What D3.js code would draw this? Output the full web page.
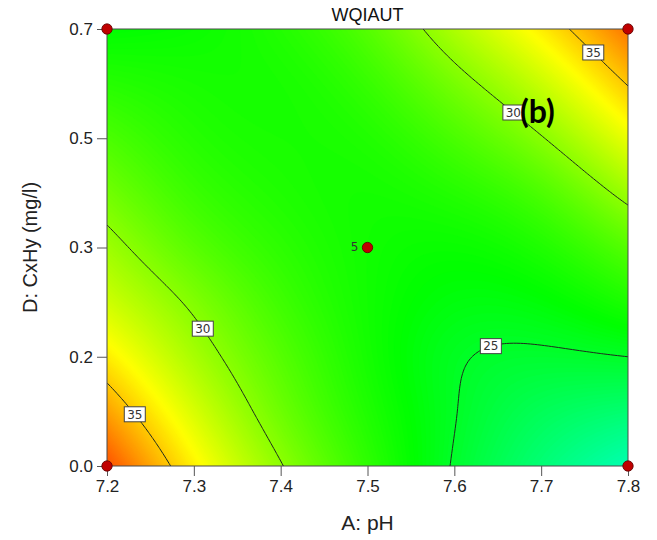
<!DOCTYPE html>
<html>
<head>
<meta charset="utf-8">
<script src="https://cdn.jsdelivr.net/npm/d3@7"></script>
<style>
  body { margin: 0; background: #fff; }
  svg text { font-family: "Liberation Sans", Arial, sans-serif; }
</style>
</head>
<body>
<svg id="chart" width="657" height="540"></svg>
<script>
// factor levels of the grid
var phLevels = [7.2, 7.3, 7.4, 7.5, 7.6, 7.7, 7.8];
var cxhyLevels = [0, 0.0875, 0.175, 0.2625, 0.35, 0.4375, 0.525, 0.6125, 0.7];

// WQIAUT estimated at each grid node, one row per CxHy level (bottom row first)
var wqiRows = [
  [38.6, 33.8, 30.1, 27.25, 24.9, 23.2, 21.8],
  [36.2, 32.25, 29.1, 26.8, 25.05, 23.9, 23.3],
  [33.95, 30.85, 28.4, 26.5, 25.15, 24.8, 25.0],
  [32.0, 29.7, 27.75, 26.4, 25.6, 25.75, 26.7],
  [30.55, 28.5, 27.2, 26.4, 26.15, 26.8, 28.4],
  [29.25, 27.6, 26.8, 26.5, 26.95, 28.15, 30.5],
  [28.1, 27.0, 26.6, 26.85, 28.05, 29.9, 32.8],
  [27.0, 26.6, 26.6, 27.5, 29.4, 31.8, 35.1],
  [25.9, 26.2, 26.9, 28.4, 31.0, 33.9, 37.5]
];

var contourLevels = [25, 30, 35];

// where the software put each contour label
var labelLevels = [35, 30, 25, 30, 35];
var labelPh = [7.236, 7.313, 7.643, 7.667, 7.763];
var labelCxhy = [0.085, 0.221, 0.187, 0.562, 0.666];

// design points
var designPh = [7.2, 7.8, 7.2, 7.8, 7.5];
var designCxhy = [0, 0, 0.7, 0.7, 0.35];
var designReps = [1, 1, 1, 1, 5];

var phTicks = [7.2, 7.3, 7.4, 7.5, 7.6, 7.7, 7.8];
var cxhyTicks = [0, 0.175, 0.35, 0.525, 0.7];
var cxhyTickLabels = ['0.0', '0.2', '0.3', '0.5', '0.7'];

var colorStops = [16, 20, 25.9, 33.4, 41];
var colorRange = ['#0000ff', '#00ffff', '#00ff00', '#ffff00', '#ff0000'];

var margin = {top: 29, right: 29, bottom: 74, left: 107},
    width = 657 - margin.left - margin.right,
    height = 540 - margin.top - margin.bottom;

var svg = d3.select('#chart');
var g = svg.append('g').attr('transform', 'translate(' + margin.left + ',' + margin.top + ')');

var x = d3.scaleLinear().domain([7.2, 7.8]).range([0, width]);
var y = d3.scaleLinear().domain([0, 0.7]).range([height, 0]);
var color = d3.scaleLinear().domain(colorStops).range(colorRange).clamp(true);

// natural cubic spline through evenly spaced values, evaluated at n points
function splineResample(ys, n) {
  var k = ys.length, M = new Array(k).fill(0);
  if (k > 2) {
    var a = [], rhs = [];
    for (var i = 1; i < k - 1; i++) {
      a.push(4);
      rhs.push(6 * (ys[i + 1] - 2 * ys[i] + ys[i - 1]));
    }
    for (var i2 = 1; i2 < a.length; i2++) {
      var w = 1 / a[i2 - 1];
      a[i2] -= w;
      rhs[i2] -= w * rhs[i2 - 1];
    }
    for (var i3 = a.length - 1; i3 >= 0; i3--) {
      M[i3 + 1] = (rhs[i3] - (i3 + 2 < k - 1 ? M[i3 + 2] : 0)) / a[i3];
    }
  }
  var out = new Array(n);
  for (var q = 0; q < n; q++) {
    var t = q / (n - 1) * (k - 1),
        s0 = Math.min(Math.floor(t), k - 2),
        s = t - s0, r = 1 - s;
    out[q] = r * ys[s0] + s * ys[s0 + 1] +
      ((r * r * r - r) * M[s0] + (s * s * s - s) * M[s0 + 1]) / 6;
  }
  return out;
}

var nx = 151, ny = 176;
var rowsFine = wqiRows.map(function(row) { return splineResample(row, nx); });
var values = new Array(nx * ny);
for (var ii = 0; ii < nx; ii++) {
  var colFine = splineResample(rowsFine.map(function(r) { return r[ii]; }), ny);
  for (var jj = 0; jj < ny; jj++) {
    // contour grid runs top to bottom, data rows bottom to top
    values[jj * nx + ii] = colFine[ny - 1 - jj];
  }
}

var cellW = width / (nx - 1), cellH = height / (ny - 1);
function gx(c) { return (c - 0.5) * cellW; }
function gy(c) { return (c - 0.5) * cellH; }
var path = d3.geoPath(d3.geoTransform({
  point: function(px, py) { this.stream.point(gx(px), gy(py)); }
}));

svg.append('defs').append('clipPath').attr('id', 'plot-clip')
  .append('rect').attr('width', width).attr('height', height);

var plot = g.append('g').attr('clip-path', 'url(#plot-clip)');

var bandThresholds = d3.range(17, 41.5, 0.1);
var bands = d3.contours().size([nx, ny]).thresholds(bandThresholds)(values);

plot.selectAll('path.band')
  .data(bands)
  .enter().append('path')
    .attr('class', 'band')
    .attr('d', path)
    .attr('fill', function(d) { return color(d.value + 0.05); })
    .attr('stroke', function(d) { return color(d.value + 0.05); })
    .attr('stroke-width', 0.3);

var lines = d3.contours().size([nx, ny]).thresholds(contourLevels)(values);

plot.selectAll('path.iso')
  .data(lines)
  .enter().append('path')
    .attr('class', 'iso')
    .attr('d', path)
    .attr('fill', 'none')
    .attr('stroke', '#1e2a1e')
    .attr('stroke-width', 1);

// frame
g.append('rect')
  .attr('width', width).attr('height', height)
  .attr('fill', 'none').attr('stroke', '#4a4a4a').attr('stroke-width', 1);

// axes
var xAxis = g.append('g')
  .attr('transform', 'translate(0,' + height + ')')
  .call(d3.axisBottom(x).tickValues(phTicks).tickSize(10).tickPadding(4).tickFormat(d3.format('.1f')));
var yAxis = g.append('g')
  .call(d3.axisLeft(y).tickValues(cxhyTicks).tickSize(10).tickPadding(4)
    .tickFormat(function(d, i) { return cxhyTickLabels[i]; }));

[xAxis, yAxis].forEach(function(ax) {
  ax.select('.domain').remove();
  ax.selectAll('line').attr('stroke', '#555');
  ax.selectAll('text')
    .attr('fill', '#222')
    .style('font-family', '"Liberation Sans", Arial, sans-serif')
    .style('font-size', '17px');
});

// contour labels snapped to the nearest point of their line
labelLevels.forEach(function(level, i) {
  var target = [x(labelPh[i]), y(labelCxhy[i])],
      best = null, bestDist = Infinity;
  lines.filter(function(c) { return c.value === level; }).forEach(function(c) {
    c.coordinates.forEach(function(poly) {
      poly.forEach(function(ring) {
        ring.forEach(function(p) {
          var px = gx(p[0]), py = gy(p[1]);
          if (px < 2 || px > width - 2 || py < 2 || py > height - 2) return;
          var dist = (px - target[0]) * (px - target[0]) + (py - target[1]) * (py - target[1]);
          if (dist < bestDist) { bestDist = dist; best = [px, py]; }
        });
      });
    });
  });
  if (!best) return;
  var lab = g.append('g').attr('transform', 'translate(' + best[0] + ',' + best[1] + ')');
  lab.append('rect')
    .attr('x', -10.5).attr('y', -7.5).attr('width', 21).attr('height', 15)
    .attr('fill', '#fff').attr('stroke', '#444').attr('stroke-width', 1);
  lab.append('text')
    .attr('text-anchor', 'middle').attr('dy', '0.36em')
    .style('font-family', '"DejaVu Sans", Verdana, sans-serif')
    .style('font-size', '12px')
    .attr('fill', '#333')
    .text(level);
});

// design points
var pts = g.selectAll('g.design')
  .data(designPh.map(function(p, i) { return {ph: p, cxhy: designCxhy[i], reps: designReps[i]}; }))
  .enter().append('g')
    .attr('class', 'design')
    .attr('transform', function(d) { return 'translate(' + x(d.ph) + ',' + y(d.cxhy) + ')'; });

pts.append('circle')
  .attr('r', 5.2)
  .attr('fill', '#c00000')
  .attr('stroke', '#5a0000')
  .attr('stroke-width', 0.8);

pts.filter(function(d) { return d.reps > 1; })
  .append('text')
  .attr('x', -9).attr('dy', '0.33em')
  .attr('text-anchor', 'end')
  .style('font-family', '"DejaVu Sans", Verdana, sans-serif')
  .style('font-size', '12px')
  .attr('fill', '#333')
  .text(function(d) { return d.reps; });

// titles
svg.append('text')
  .attr('x', margin.left + width / 2).attr('y', 21)
  .attr('text-anchor', 'middle')
  .style('font-size', '18px').attr('fill', '#111')
  .text('WQIAUT');

svg.append('text')
  .attr('x', margin.left + width / 2).attr('y', 530)
  .attr('text-anchor', 'middle')
  .style('font-size', '21px').attr('fill', '#222')
  .text('A: pH');

svg.append('text')
  .attr('transform', 'translate(37,' + (margin.top + height / 2) + ') rotate(-90)')
  .attr('text-anchor', 'middle')
  .style('font-size', '20px').attr('fill', '#222')
  .text('D: CxHy (mg/l)');

svg.append('text')
  .attr('x', 520).attr('y', 123)
  .style('font-family', 'Lato, "Open Sans", sans-serif')
  .style('font-weight', 'bold')
  .style('font-size', '32px')
  .attr('fill', '#000')
  .text('(b)');
</script>
</body>
</html>
